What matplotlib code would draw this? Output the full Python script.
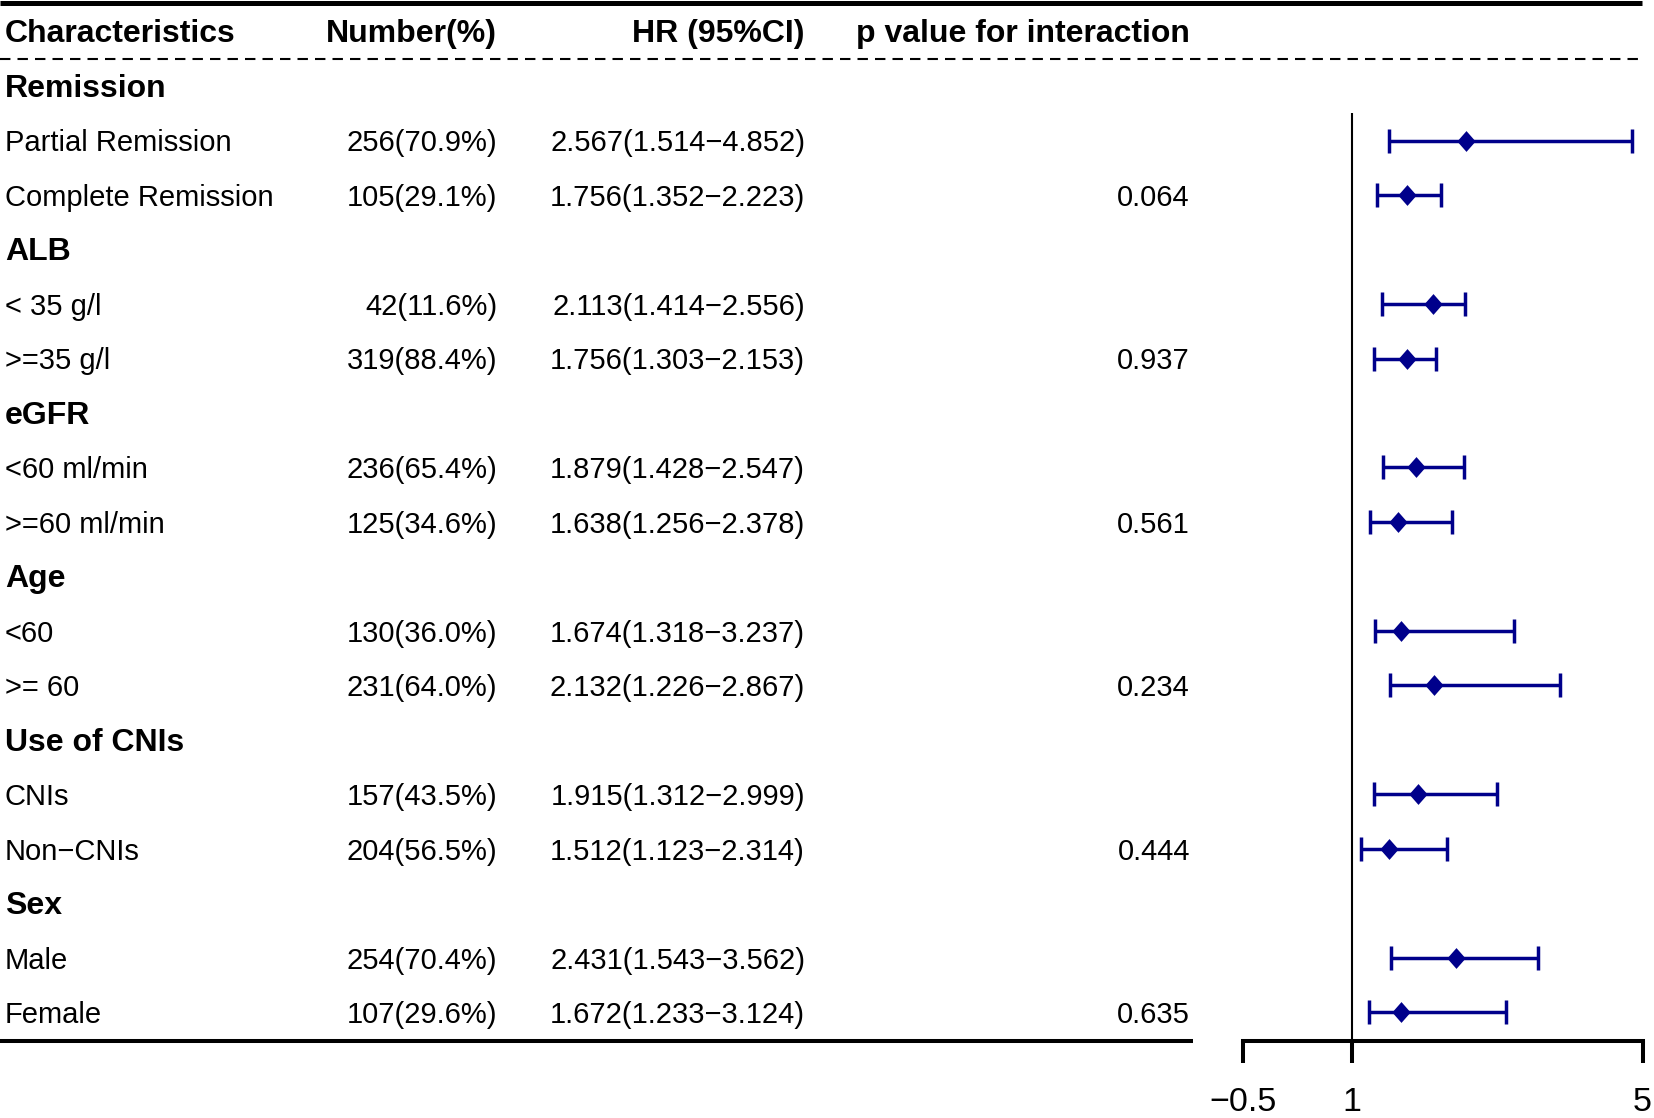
import matplotlib
matplotlib.use('Agg')
import matplotlib.pyplot as plt

plt.rcParams['font.family'] = ['Liberation Sans', 'DejaVu Sans']

# table columns as printed in the reference
groups = ['Remission', 'ALB', 'eGFR', 'Age', 'Use of CNIs', 'Sex']
subgroups = [['Partial Remission', 'Complete Remission'],
             ['< 35 g/l', '>=35 g/l'],
             ['<60 ml/min', '>=60 ml/min'],
             ['<60', '>= 60'],
             ['CNIs', 'Non\u2212CNIs'],
             ['Male', 'Female']]
counts = [[256, 105], [42, 319], [236, 125], [130, 231], [157, 204], [254, 107]]
pcts = [[70.9, 29.1], [11.6, 88.4], [65.4, 34.6], [36.0, 64.0], [43.5, 56.5], [70.4, 29.6]]
hr_text = [['2.567(1.514\u22124.852)', '1.756(1.352\u22122.223)'],
           ['2.113(1.414\u22122.556)', '1.756(1.303\u22122.153)'],
           ['1.879(1.428\u22122.547)', '1.638(1.256\u22122.378)'],
           ['1.674(1.318\u22123.237)', '2.132(1.226\u22122.867)'],
           ['1.915(1.312\u22122.999)', '1.512(1.123\u22122.314)'],
           ['2.431(1.543\u22123.562)', '1.672(1.233\u22123.124)']]
p_inter = ['0.064', '0.937', '0.561', '0.234', '0.444', '0.635']

# estimates as drawn in the forest panel (the ">= 60" bar is drawn wider than its label)
hr_plot = [2.567, 1.756, 2.113, 1.756, 1.879, 1.638, 1.674, 2.13, 1.915, 1.512, 2.431, 1.672]
lo_plot = [1.514, 1.352, 1.414, 1.303, 1.428, 1.256, 1.318, 1.52, 1.312, 1.123, 1.543, 1.233]
hi_plot = [4.852, 2.223, 2.556, 2.153, 2.547, 2.378, 3.237, 3.87, 2.999, 2.314, 3.562, 3.124]

headers = ['Characteristics', 'Number(%)', 'HR (95%CI)', 'p value for interaction']
x_ticks = [-0.5, 1, 5]
x_ticklabels = ['\u22120.5', '1', '5']

W, H = 1654, 1118
fig = plt.figure(figsize=(W / 100, H / 100), dpi=100)
ylim = (19.94, -0.581)
navy = '#00008B'

# text table
ax_t = fig.add_axes([0, 0, 1, 1])
ax_t.set_xlim(0, W)
ax_t.set_ylim(*ylim)
ax_t.axis('off')

col_x = [5, 497, 805, 1190]
col_ha = ['left', 'right', 'right', 'right']
reg = 21
bold = 23
dy = 0.05

for cx, ha, h in zip(col_x, col_ha, headers):
    ax_t.text(cx, dy, h, ha=ha, va='center', fontsize=bold, fontweight='bold')

ys = []
for g, name in enumerate(groups):
    gy = 1 + 3 * g
    ax_t.text(col_x[0], gy + dy, name, ha='left', va='center', fontsize=bold, fontweight='bold')
    for k in range(2):
        y = gy + 1 + k
        ax_t.text(col_x[0], y + dy, subgroups[g][k], ha='left', va='center', fontsize=reg)
        ax_t.text(col_x[1], y + dy, f'{counts[g][k]}({pcts[g][k]:.1f}%)', ha='right', va='center', fontsize=reg)
        ax_t.text(col_x[2], y + dy, hr_text[g][k], ha='right', va='center', fontsize=reg)
        if k == 1:
            ax_t.text(col_x[3], y + dy, p_inter[g], ha='right', va='center', fontsize=reg)
        ys.append(y)

# table rules
base = 18.52
ax_t.plot([0, 1642], [-0.52, -0.52], color='black', lw=3.6, solid_capstyle='butt')
ax_t.plot([0, 1642], [0.503, 0.503], color='black', lw=1.5, linestyle=(0, (5, 3.4)))
ax_t.plot([0, 1193], [base, base], color='black', lw=2.9, solid_capstyle='butt')

# forest panel
left = 1242.7 / W
width = (1642.5 - 1242.7) / W
ax_f = fig.add_axes([left, 0, width, 1])
ax_f.patch.set_alpha(0)
ax_f.set_xlim(-0.5, 5)
ax_f.set_ylim(*ylim)
for s in ['top', 'left', 'right']:
    ax_f.spines[s].set_visible(False)
ax_f.spines['bottom'].set_position(('data', base))
ax_f.spines['bottom'].set_bounds(-0.5, 5)
ax_f.spines['bottom'].set_linewidth(2.9)
ax_f.set_yticks([])
ax_f.set_xticks(x_ticks)
ax_f.set_xticklabels(x_ticklabels, fontsize=24.5)
ax_f.tick_params(axis='x', direction='out', length=15.6, width=2.9, pad=18)

ax_f.vlines(1, 1.5, base, color='black', lw=1.5)

err_lo = [h - l for h, l in zip(hr_plot, lo_plot)]
err_hi = [u - h for h, u in zip(hr_plot, hi_plot)]
ax_f.errorbar(hr_plot, ys, xerr=[err_lo, err_hi], fmt='none', ecolor=navy,
              elinewidth=2.5, capsize=8.8, capthick=2.5, clip_on=False)
diamond = [(-0.88, 0), (0, 1), (0.88, 0), (0, -1), (-0.88, 0)]
ax_f.plot(hr_plot, ys, linestyle='none', marker=diamond, markersize=15,
          color=navy, markeredgewidth=0, clip_on=False, zorder=3)

fig.savefig('out.png', dpi=100)
